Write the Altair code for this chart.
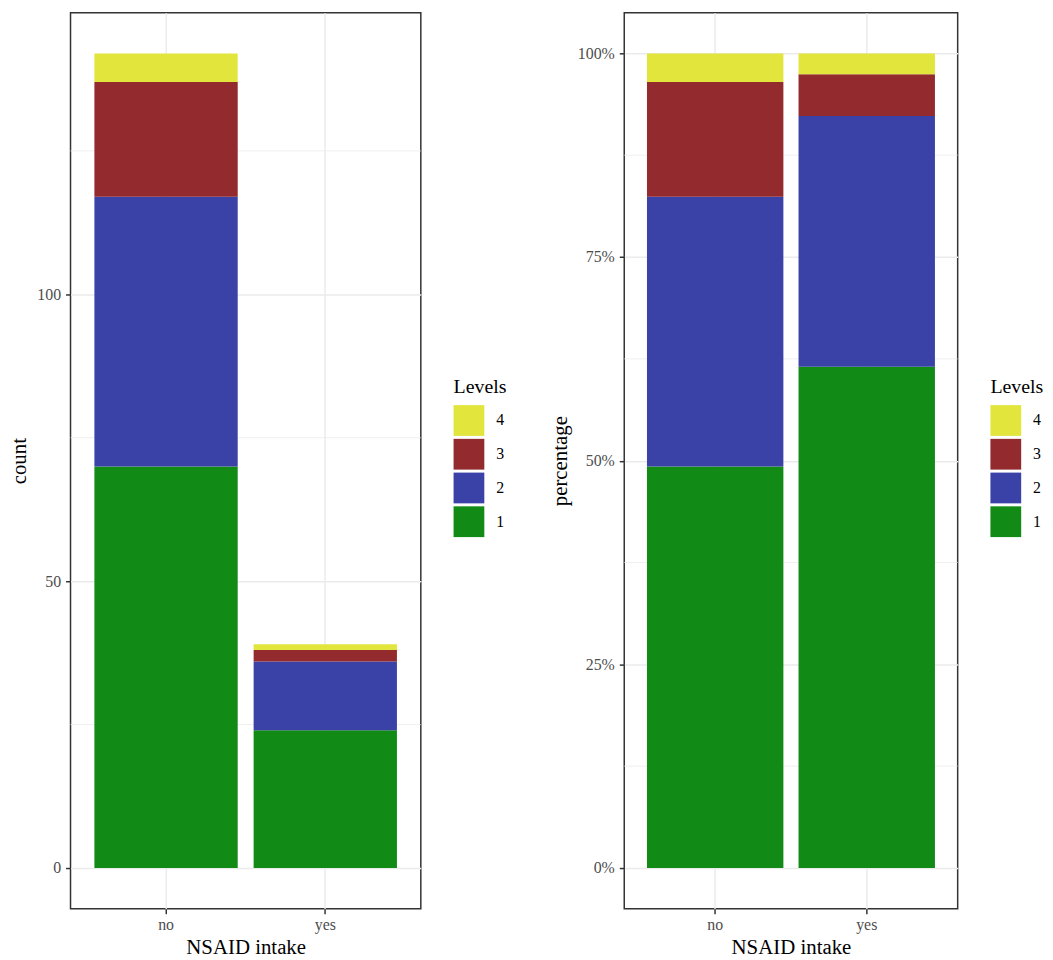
import altair as alt
import pandas as pd

groups = ["no", "yes"]
levels = ["1", "2", "3", "4"]
count_no = [70, 47, 20, 5]
count_yes = [24, 12, 2, 1]
level_colors = ["#118a16", "#3a42a8", "#922a2e", "#e2e53c"]
count_ticks = [0, 50, 100]
count_minor = [25, 75, 125]
pct_ticks = [0, 0.25, 0.5, 0.75, 1.0]
pct_minor = [0.125, 0.375, 0.625, 0.875]

rows = []
for g, vals in zip(groups, [count_no, count_yes]):
    for lev, v in zip(levels, vals):
        rows.append({"NSAID": g, "Levels": lev, "lev": int(lev), "n": v})
df = pd.DataFrame(rows)

max_total = max(sum(count_no), sum(count_yes))
count_domain = [-0.05 * max_total, 1.05 * max_total]
pct_domain = [-0.05, 1.05]

FONT = "Liberation Serif"
H = 903
W1 = 353
W2 = 336

color_scale = alt.Scale(domain=levels[::-1], range=level_colors[::-1])


def make_legend(w):
    return alt.Legend(
        title="Levels", orient="none", legendX=w + 33, legendY=H / 2 - 84,
        symbolType="square", symbolSize=961, symbolStrokeWidth=0,
        symbolStrokeColor="transparent",
        rowPadding=3, labelOffset=12, titlePadding=8,
        titleFontSize=20, labelFontSize=16, titleFontWeight="normal",
        titleFont=FONT, labelFont=FONT, labelColor="black", titleColor="black",
    )


def x_enc():
    return alt.X(
        "NSAID:N", title="NSAID intake",
        scale=alt.Scale(paddingInner=0.1, paddingOuter=0.15),
        axis=alt.Axis(bandPosition=0.5, labelAngle=0, grid=True,
                      labelPadding=3, titlePadding=4),
    )


def panel(w, ytitle, ticks, minor, domain, stack, fmt):
    minor_df = pd.DataFrame({"v": minor})
    rules = alt.Chart(minor_df).mark_rule(color="#ebebeb", strokeWidth=0.8).encode(
        y=alt.Y("v:Q", title=ytitle, scale=alt.Scale(domain=domain, nice=False, zero=False))
    )
    axis_kwargs = dict(values=ticks, grid=True, labelPadding=5, titlePadding=7)
    if fmt:
        axis_kwargs["format"] = fmt
    bars = alt.Chart(df).mark_bar().encode(
        x=x_enc(),
        y=alt.Y("n:Q", title=ytitle, stack=stack,
                scale=alt.Scale(domain=domain, nice=False, zero=False),
                axis=alt.Axis(**axis_kwargs)),
        color=alt.Color("Levels:N", scale=color_scale, legend=make_legend(w)),
        order=alt.Order("lev:Q", sort="ascending"),
    )
    return alt.layer(rules, bars).properties(width=w, height=H)


left = panel(W1, "count", count_ticks, count_minor, count_domain, "zero", None)
right = panel(W2, "percentage", pct_ticks, pct_minor, pct_domain, "normalize", ".0%")

chart = alt.hconcat(left, right, spacing=40).resolve_scale(color="independent").configure(
    font=FONT, padding=0
).configure_view(
    stroke="#333333", strokeWidth=1.5
).configure_axis(
    labelFont=FONT, titleFont=FONT, labelFontSize=16, titleFontSize=21,
    labelColor="#4d4d4d", titleColor="black", titleFontWeight="normal",
    tickColor="#333333", tickWidth=1.5, tickSize=5, domain=False,
    gridColor="#ebebeb", gridWidth=1.5,
)

chart.save("out.html", embed_options={"renderer": "svg", "actions": False})
